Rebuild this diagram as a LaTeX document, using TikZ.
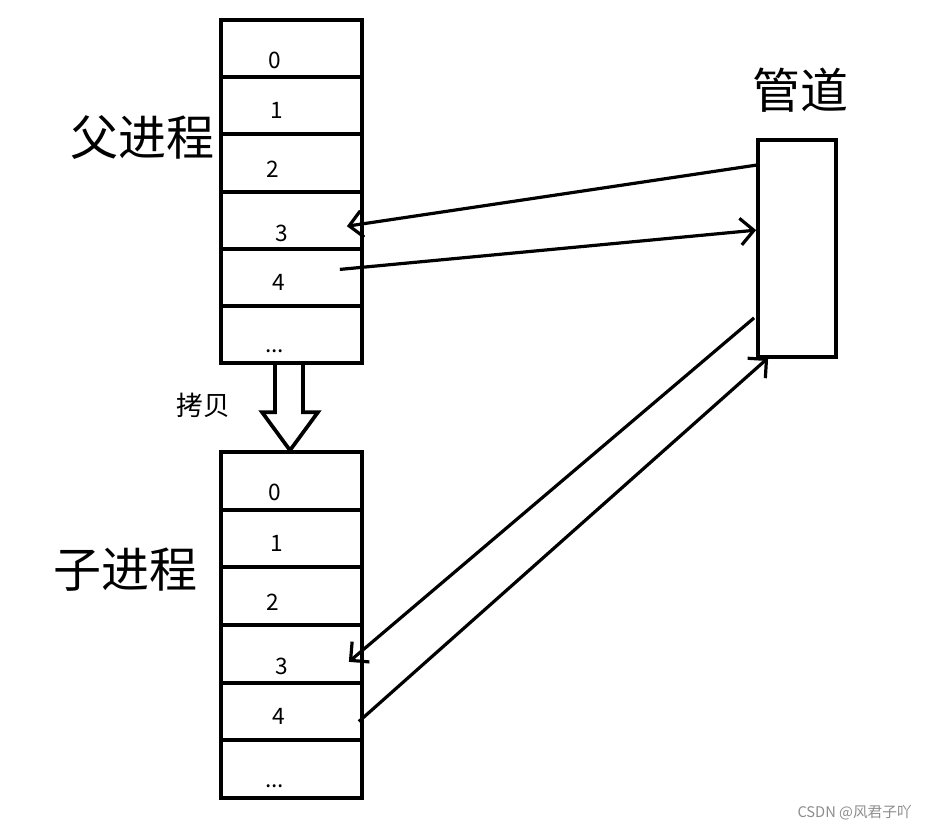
\documentclass[tikz,border=0pt]{standalone}
\usepackage{fontspec}
\setmainfont{Noto Sans CJK SC}
\usetikzlibrary{arrows.meta,calc}
\newcommand\tdots{...}

\begin{document}
\begin{tikzpicture}[x=0.75pt,y=0.75pt,yscale=-1,xscale=1,
  slot/.style={draw,line width=2.8pt,minimum width=105.75pt,minimum height=43pt,inner sep=0pt},
  num/.style={anchor=base,inner sep=0.75pt,font=\fontsize{17pt}{17pt}\selectfont},
  title/.style={inner sep=0.75pt,font=\fontsize{36pt}{36pt}\selectfont},
  conn/.style={line width=2.4pt,-{Straight Barb[length=10pt,width=20pt]}}]
\useasboundingbox (0,0) rectangle (928,833);

% parent and child fd tables
\foreach \i/\t/\dx/\dy in {0/0/-16.5/19.8,1/1/-15/12.8,2/2/-19/14.4,3/3/-10/21,4/4/-13/13,5/\tdots/-16.7/18}{
  \node[slot] (p\i) at (291.5,{20+57.2*(\i+0.5)}) {};
  \node[num] (pl\i) at ($(p\i)+(\dx,\dy)$) {\t};
  \node[slot] (c\i) at (291.5,{452+57.67*(\i+0.5)}) {};
  \node[num] (cl\i) at ($(c\i)+(\dx,\dy)$) {\t};
}

% pipe
\node[draw,line width=2.8pt,minimum width=58.5pt,minimum height=162.75pt,inner sep=0pt] (pipe) at (797,248.5) {};

\node[title] (parent) at (142,137) {父进程};
\node[title] (child) at (125,570) {子进程};
\node[title] (pipename) at (800,90) {管道};
\node[inner sep=0.75pt,font=\fontsize{20pt}{20pt}\selectfont] (copy) at (203,405) {拷贝};

% copy arrow
\draw[line width=2.8pt,fill=white] ($(p5.south)+(-16.5,0)$) -- ++(0,47) -- ++(-13,0) -- ($(c0.north)+(-1.5,0)$)
  -- ($(p5.south)+(26.5,47)$) -- ++(-15,0) -- ($(p5.south)+(11.5,0)$);

% connections
\coordinate (pw1) at ($(pipe.north west)+(0,27)$);
\coordinate (pw2) at ($(pipe.north west)+(0,92)$);
\coordinate (pw3) at ($(pipe.south west)+(-2,-41)$);
\coordinate (pb) at ($(pipe.south west)+(12,-1)$);
\coordinate (p3in) at ($(p3.east)+(-17,6)$);
\coordinate (p4in) at ($(p4.east)+(-24,-8)$);
\coordinate (c3in) at ($(c3.east)+(-15,8)$);
\coordinate (c4in) at ($(c4.east)+(-5,10)$);
\draw[conn] (pw1) -- (p3in);
\draw[conn] (p4in) -- (pw2);
\draw[conn] (pw3) -- (c3in);
\draw[conn] (c4in) -- (pb);

\node[anchor=east,inner sep=0pt,text=black!45,font=\fontsize{11pt}{11pt}\selectfont] (mark) at (912,813) {CSDN @风君子吖};
\end{tikzpicture}
\end{document}
